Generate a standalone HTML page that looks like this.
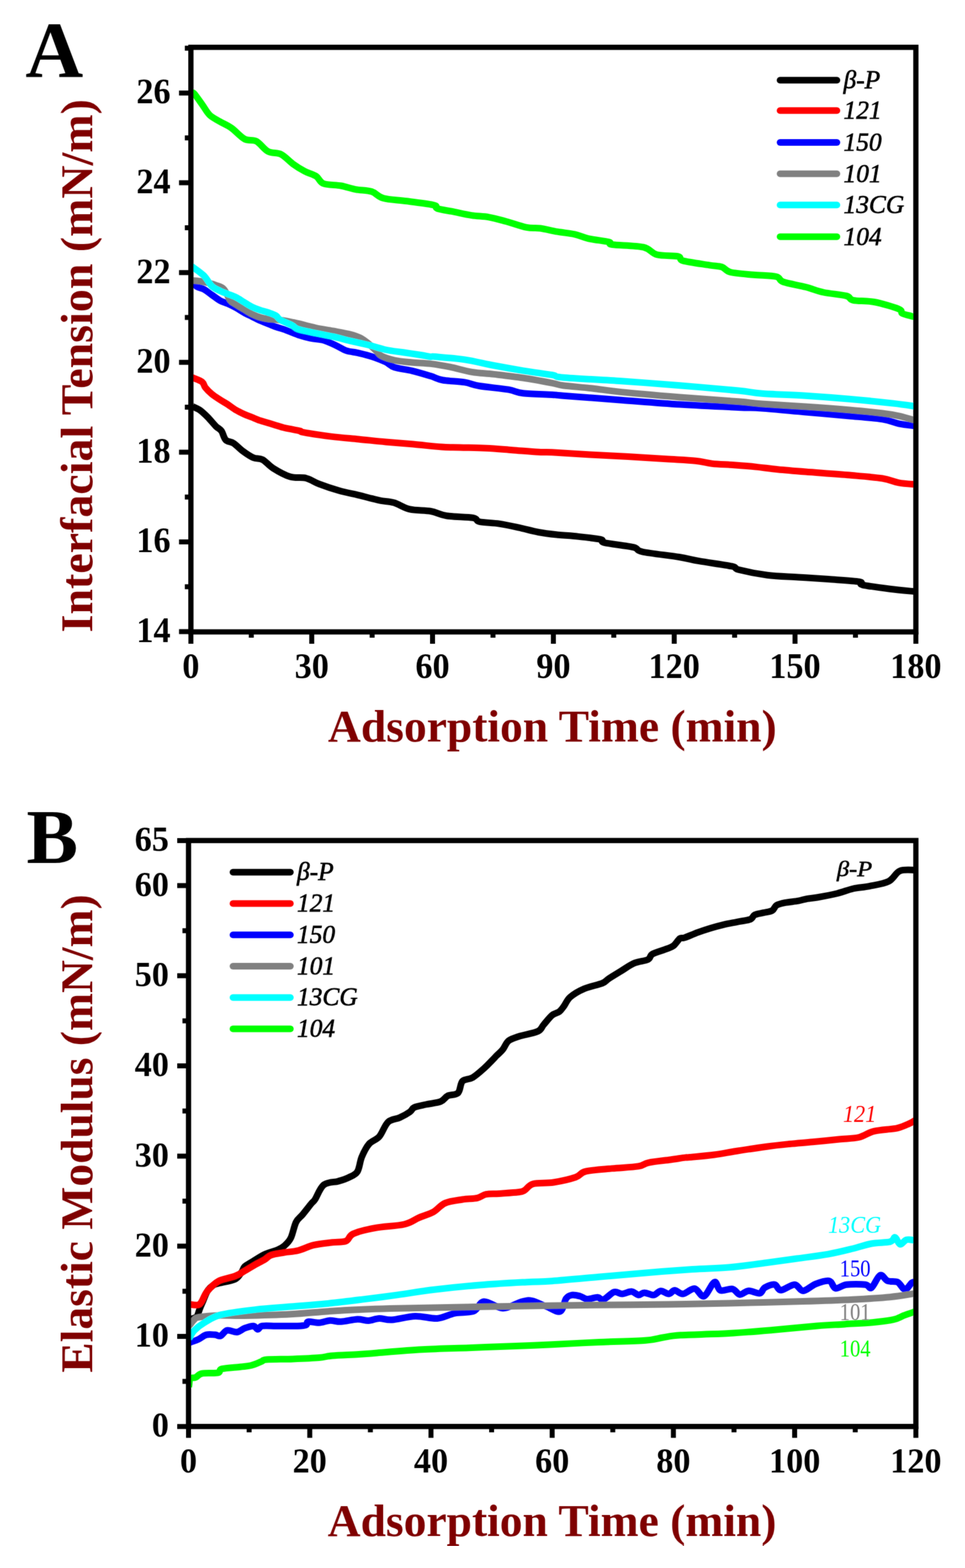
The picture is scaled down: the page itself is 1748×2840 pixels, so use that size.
<!DOCTYPE html>
<html><head><meta charset="utf-8"><title>Figure</title>
<style>html,body{margin:0;padding:0;background:#fff;} svg{display:block;}</style>
</head><body>
<svg width="1748" height="2840" viewBox="0 0 1748 2840">
<rect x="0" y="0" width="1748" height="2840" fill="#ffffff"/>
<defs><filter id="soft" x="0" y="0" width="100%" height="100%"><feConvolveMatrix order="3" kernelMatrix="1 2 1 2 12 2 1 2 1" divisor="24" edgeMode="duplicate" preserveAlpha="false"/></filter></defs>
<g filter="url(#soft)">
<defs><clipPath id="cA"><rect x="346" y="86" width="1313" height="1058"/></clipPath><clipPath id="cB"><rect x="341.5" y="1522" width="1318" height="1062"/></clipPath></defs>
<path clip-path="url(#cA)" d="M347.0,734.5C347.1,734.7 344.8,734.1 347.3,735.5C349.8,736.9 357.0,739.3 361.8,742.7C366.6,746.1 371.5,750.9 376.4,755.8C381.2,760.7 386.8,767.8 390.9,771.9C395.0,776.0 398.1,776.4 401.1,780.6C404.1,784.8 405.3,793.2 409.0,796.9C412.7,800.6 418.1,799.5 423.3,802.9C428.5,806.3 434.1,812.8 440.0,817.1C445.9,821.5 453.1,826.4 459.0,829.0C464.9,831.6 469.7,829.4 475.7,832.6C481.7,835.8 486.5,842.9 494.8,848.1C503.1,853.3 515.8,860.6 525.7,863.6C535.6,866.6 545.6,863.8 554.3,866.0C563.0,868.2 568.2,872.9 578.1,876.7C588.0,880.5 601.9,885.2 613.8,888.6C625.7,892.0 639.6,894.5 649.5,896.9C659.4,899.3 666.5,901.2 673.3,902.9C680.0,904.6 683.2,905.6 690.0,906.9C696.8,908.2 705.1,907.9 713.8,910.5C722.5,913.1 731.3,919.8 742.4,922.4C753.5,925.0 769.4,924.0 780.5,926.0C791.6,928.0 796.3,932.3 809.0,934.3C821.7,936.3 846.8,936.1 856.7,937.9C866.6,939.7 860.7,943.2 868.6,945.0C876.5,946.8 892.4,946.8 904.3,948.6C916.2,950.4 928.1,953.1 940.0,955.7C951.9,958.3 963.8,961.8 975.7,964.0C987.6,966.2 1000.7,967.6 1011.4,968.8C1022.1,970.0 1027.3,969.6 1040.0,971.0C1052.7,972.4 1078.5,974.9 1087.6,976.9C1096.7,978.9 1084.9,980.5 1094.8,982.9C1104.7,985.3 1135.6,988.4 1147.1,991.2C1158.6,994.0 1149.9,996.5 1163.8,999.5C1177.7,1002.5 1213.4,1006.2 1230.5,1009.0C1247.6,1011.8 1250.3,1013.4 1266.2,1016.2C1282.1,1019.0 1313.8,1023.1 1325.7,1025.7C1337.6,1028.3 1326.9,1029.0 1337.6,1031.7C1348.3,1034.4 1372.0,1039.4 1390.0,1041.7C1408.0,1044.0 1427.1,1044.2 1445.6,1045.4C1464.1,1046.6 1482.6,1047.7 1501.1,1049.1C1519.6,1050.5 1546.5,1052.0 1556.7,1053.7C1566.9,1055.4 1553.0,1057.1 1562.2,1059.3C1571.5,1061.5 1596.2,1064.7 1612.2,1066.7C1628.2,1068.7 1650.4,1070.7 1658.0,1071.5" fill="none" stroke="#000000" stroke-width="12" stroke-linejoin="round" stroke-linecap="butt"/>
<path clip-path="url(#cA)" d="M347.0,683.5C347.5,683.7 347.0,683.1 350.2,684.5C353.4,685.9 362.6,688.9 366.2,691.8C369.8,694.7 369.1,698.4 372.0,702.0C374.9,705.6 379.2,710.0 383.6,713.6C388.0,717.2 393.4,720.6 398.2,723.8C403.0,727.0 407.8,729.5 412.7,732.6C417.6,735.8 422.4,739.8 427.3,742.7C432.2,745.6 437.0,747.8 441.8,750.0C446.6,752.2 451.5,753.8 456.4,755.8C461.3,757.8 466.1,760.0 471.0,761.7C475.9,763.4 480.7,764.5 485.5,766.0C490.3,767.5 495.1,768.9 500.0,770.4C504.9,771.9 509.8,773.6 514.6,774.8C519.5,776.0 524.2,776.7 529.1,777.7C534.0,778.7 540.2,779.7 543.7,780.6C547.2,781.5 540.7,781.4 550.0,783.1C559.3,784.8 583.1,788.5 599.6,790.6C616.1,792.7 632.7,793.9 649.2,795.5C665.7,797.1 682.3,799.0 698.8,800.5C715.3,802.0 731.5,803.1 748.4,804.6C765.3,806.1 785.9,808.6 800.0,809.6C814.1,810.6 819.5,810.1 832.9,810.5C846.3,810.9 864.6,810.9 880.5,811.7C896.4,812.5 912.2,814.0 928.1,815.2C944.0,816.4 963.7,818.1 975.7,818.8C987.7,819.5 984.5,818.4 1000.0,819.2C1015.5,820.0 1045.9,822.2 1068.8,823.5C1091.7,824.8 1114.7,825.7 1137.6,827.0C1160.5,828.3 1186.0,830.0 1206.4,831.3C1226.8,832.6 1246.1,833.3 1260.0,834.7C1273.9,836.1 1278.1,838.4 1289.7,839.7C1301.3,841.0 1316.2,841.3 1329.4,842.3C1342.6,843.3 1355.8,844.3 1369.0,845.6C1382.2,846.9 1393.6,848.8 1408.7,850.3C1423.8,851.8 1437.7,852.9 1459.4,854.6C1481.1,856.3 1515.6,858.6 1538.7,860.6C1561.8,862.6 1583.4,864.2 1598.3,866.5C1613.2,868.8 1618.0,872.6 1628.0,874.4C1638.0,876.2 1653.0,877.0 1658.0,877.5" fill="none" stroke="#ff0000" stroke-width="12" stroke-linejoin="round" stroke-linecap="butt"/>
<path clip-path="url(#cA)" d="M347.0,511.0C347.3,511.2 346.9,510.8 348.7,512.2C350.4,513.6 354.1,517.6 357.5,519.5C360.9,521.4 364.8,521.4 369.1,523.8C373.5,526.2 378.8,530.6 383.6,534.0C388.5,537.4 393.4,541.5 398.2,544.2C403.0,546.9 407.8,547.8 412.7,550.0C417.6,552.2 422.4,554.6 427.3,557.3C432.2,560.0 437.0,563.3 441.8,566.0C446.6,568.7 451.5,570.9 456.4,573.3C461.3,575.7 466.1,578.4 471.0,580.6C475.9,582.8 480.7,584.5 485.5,586.4C490.3,588.3 495.1,590.5 500.0,592.2C504.9,593.9 507.9,594.2 514.6,596.6C521.3,599.0 531.8,603.8 540.0,606.5C548.2,609.2 555.9,611.2 563.8,612.9C571.7,614.6 579.7,614.4 587.6,616.8C595.5,619.2 604.8,624.0 611.4,627.1C618.0,630.2 620.7,633.0 627.3,635.1C633.9,637.2 643.2,637.9 651.1,639.8C659.0,641.6 667.0,643.6 674.9,646.2C682.8,648.9 692.1,652.5 698.7,655.7C705.3,658.9 706.7,662.6 714.6,665.2C722.5,667.9 735.4,669.0 746.3,671.6C757.2,674.2 770.7,678.3 780.0,681.1C789.3,683.9 791.7,686.6 802.0,688.5C812.3,690.4 830.6,690.6 841.6,692.4C852.6,694.1 854.9,696.8 868.1,699.0C881.3,701.2 907.8,703.5 921.0,705.7C934.2,707.9 934.3,710.8 947.5,712.3C960.7,713.8 988.3,714.2 1000.4,714.9C1012.5,715.6 999.1,715.1 1020.0,716.7C1040.9,718.3 1090.5,722.1 1125.8,724.7C1161.1,727.4 1196.3,730.4 1231.6,732.6C1266.9,734.8 1312.8,736.8 1337.5,737.9C1362.2,739.0 1359.7,738.1 1380.0,739.5C1400.3,740.9 1433.0,744.2 1459.4,746.5C1485.9,748.8 1515.6,751.2 1538.7,753.4C1561.8,755.5 1583.4,757.1 1598.3,759.4C1613.2,761.7 1618.0,765.3 1628.0,767.3C1638.0,769.3 1653.0,770.8 1658.0,771.5" fill="none" stroke="#0000ff" stroke-width="12" stroke-linejoin="round" stroke-linecap="butt"/>
<path clip-path="url(#cA)" d="M347.0,507.8C349.5,508.1 356.9,508.6 361.8,509.3C366.7,510.0 371.5,511.0 376.4,512.2C381.2,513.4 386.0,514.7 390.9,516.6C395.8,518.5 401.1,519.2 405.5,523.8C409.9,528.4 413.5,539.6 417.1,544.2C420.7,548.8 423.2,548.8 427.3,551.5C431.4,554.2 437.0,557.3 441.8,560.2C446.6,563.1 451.5,566.5 456.4,568.9C461.3,571.3 466.1,573.3 471.0,574.8C475.9,576.3 478.2,576.7 485.5,577.7C492.8,578.7 505.5,579.2 514.6,580.6C523.7,582.0 530.5,583.7 540.0,585.9C549.5,588.1 561.1,591.5 571.7,593.8C582.3,596.0 592.9,597.4 603.5,599.4C614.1,601.4 627.0,603.6 635.2,605.7C643.4,607.8 647.6,609.3 652.9,612.0C658.2,614.7 662.1,618.0 667.0,622.0C671.9,626.0 678.0,632.2 682.0,636.0C686.0,639.8 685.4,641.9 690.8,644.6C696.2,647.4 705.4,650.5 714.6,652.5C723.9,654.5 735.4,655.4 746.3,656.5C757.2,657.6 768.5,657.5 780.0,658.9C791.5,660.3 802.7,662.2 815.2,664.7C827.7,667.2 841.7,671.7 854.9,673.9C868.1,676.1 879.2,676.1 894.6,677.9C910.0,679.7 929.9,681.9 947.5,684.5C965.1,687.1 988.3,691.5 1000.4,693.8C1012.5,696.1 1007.9,696.6 1020.0,698.2C1032.1,699.8 1055.3,701.5 1072.9,703.5C1090.5,705.5 1099.3,707.5 1125.8,710.1C1152.2,712.8 1196.3,716.5 1231.6,719.4C1266.9,722.3 1312.8,725.3 1337.5,727.3C1362.2,729.3 1359.7,730.1 1380.0,731.6C1400.3,733.1 1433.0,734.7 1459.4,736.5C1485.9,738.3 1515.6,740.5 1538.7,742.5C1561.8,744.5 1583.4,746.7 1598.3,748.5C1613.2,750.3 1618.0,751.2 1628.0,753.4C1638.0,755.6 1653.0,760.1 1658.0,761.5" fill="none" stroke="#808080" stroke-width="12" stroke-linejoin="round" stroke-linecap="butt"/>
<path clip-path="url(#cA)" d="M347.0,483.0C347.5,483.2 346.5,481.8 350.2,484.5C353.9,487.2 363.5,493.5 369.1,499.1C374.7,504.7 378.8,513.4 383.6,518.0C388.5,522.6 393.4,524.3 398.2,526.7C403.0,529.1 407.8,530.7 412.7,532.6C417.6,534.5 422.4,536.0 427.3,538.4C432.2,540.8 437.0,544.2 441.8,547.1C446.6,550.0 451.5,553.4 456.4,555.8C461.3,558.2 466.1,560.0 471.0,561.7C475.9,563.4 480.7,564.3 485.5,566.0C490.3,567.7 496.4,569.6 500.0,571.8C503.6,574.0 502.4,576.2 507.3,579.1C512.1,582.0 523.6,586.4 529.1,589.3C534.6,592.1 532.9,593.9 540.0,596.2C547.1,598.5 561.1,601.0 571.7,603.3C582.3,605.5 592.9,607.3 603.5,609.7C614.1,612.1 624.6,615.1 635.2,617.6C645.8,620.1 656.4,622.1 667.0,624.8C677.6,627.4 688.1,631.2 698.7,633.5C709.3,635.8 719.9,636.7 730.5,638.3C741.1,639.9 754.0,641.7 762.2,643.0C770.5,644.3 775.6,645.7 780.0,646.2C784.4,646.7 778.4,645.2 788.7,646.1C799.0,647.0 824.0,648.8 841.6,651.4C859.2,654.0 877.0,658.7 894.6,662.0C912.2,665.3 929.9,668.4 947.5,671.3C965.1,674.2 988.3,677.1 1000.4,679.2C1012.5,681.3 999.1,681.9 1020.0,683.7C1040.9,685.6 1090.5,687.9 1125.8,690.3C1161.1,692.7 1196.3,695.3 1231.6,698.2C1266.9,701.1 1312.8,705.1 1337.5,707.5C1362.2,709.9 1359.7,711.2 1380.0,712.7C1400.3,714.2 1433.0,715.0 1459.4,716.7C1485.9,718.4 1512.2,720.4 1538.7,722.7C1565.2,725.0 1598.2,728.4 1618.1,730.6C1638.0,732.8 1651.3,735.1 1658.0,736.0" fill="none" stroke="#00ffff" stroke-width="12" stroke-linejoin="round" stroke-linecap="butt"/>
<path clip-path="url(#cA)" d="M347.0,168.0C347.8,168.3 348.6,166.2 351.9,169.8C355.1,173.4 361.9,183.3 366.5,189.7C371.1,196.1 374.4,203.1 379.7,208.2C385.0,213.3 391.6,216.1 398.2,220.1C404.8,224.1 411.9,226.7 419.4,232.0C426.9,237.3 435.7,247.9 443.2,251.9C450.7,255.9 457.2,252.1 464.3,255.8C471.4,259.5 478.0,270.3 485.5,274.3C493.0,278.3 501.8,275.9 509.3,279.6C516.8,283.4 523.5,291.7 530.5,296.8C537.5,301.9 544.6,306.2 551.6,310.0C558.6,313.8 567.1,315.6 572.8,319.3C578.5,323.1 578.5,329.6 586.0,332.5C593.5,335.4 608.1,334.7 617.8,336.5C627.5,338.3 635.0,341.3 644.2,343.1C653.5,344.9 664.9,344.5 673.3,347.1C681.7,349.8 683.9,356.1 694.5,359.0C705.1,361.9 721.5,362.2 736.8,364.3C752.0,366.4 776.8,369.3 786.0,371.5C795.2,373.7 786.0,375.6 792.2,377.7C798.4,379.8 812.9,381.8 823.3,383.9C833.6,386.0 843.9,388.5 854.3,390.1C864.6,391.7 875.0,391.5 885.4,393.3C895.8,395.1 905.1,397.9 916.5,401.0C927.9,404.1 943.4,409.8 953.8,411.9C964.2,414.0 969.4,412.2 978.7,413.5C988.0,414.8 999.4,417.9 1009.8,419.7C1020.1,421.5 1031.5,422.2 1040.8,424.3C1050.1,426.4 1055.3,429.8 1065.7,432.1C1076.1,434.4 1095.8,436.5 1103.0,438.3C1110.2,440.1 1098.8,441.4 1109.2,443.0C1119.6,444.6 1151.7,444.6 1165.2,447.7C1178.7,450.8 1179.5,458.5 1190.0,461.3C1200.5,464.1 1220.2,462.5 1228.1,464.4C1236.0,466.2 1228.1,469.8 1237.6,472.4C1247.1,475.0 1273.5,478.4 1285.2,480.3C1296.9,482.2 1301.2,481.4 1307.5,483.5C1313.8,485.6 1313.8,490.6 1323.3,493.0C1332.8,495.4 1350.8,496.5 1364.6,497.8C1378.4,499.1 1396.9,498.9 1405.9,501.0C1414.9,503.1 1409.6,507.3 1418.6,510.5C1427.6,513.7 1447.6,516.8 1459.8,520.0C1472.0,523.2 1479.4,526.9 1491.6,529.5C1503.8,532.1 1523.9,533.5 1532.9,535.9C1541.9,538.3 1537.1,541.9 1545.6,543.8C1554.1,545.6 1570.0,544.4 1583.7,547.0C1597.5,549.6 1619.6,556.3 1628.1,559.7C1636.5,563.1 1630.7,565.5 1634.4,567.6C1638.1,569.7 1646.4,571.3 1650.3,572.4C1654.2,573.5 1656.7,573.7 1658.0,574.0" fill="none" stroke="#00ff00" stroke-width="12" stroke-linejoin="round" stroke-linecap="butt"/>
<path clip-path="url(#cB)" d="M342.0,2390.0C343.7,2389.5 349.5,2388.0 352.0,2387.0C354.5,2386.0 355.3,2386.8 357.0,2384.0C358.7,2381.2 360.2,2374.7 362.0,2370.0C363.8,2365.3 365.7,2361.3 368.0,2356.0C370.3,2350.7 373.0,2342.7 376.0,2338.0C379.0,2333.3 382.7,2330.2 386.0,2328.0C389.3,2325.8 389.1,2326.3 395.7,2324.5C402.3,2322.7 418.6,2320.2 425.5,2317.0C432.4,2313.8 434.0,2308.8 437.0,2305.0C440.0,2301.2 440.3,2297.1 443.3,2294.0C446.3,2290.9 449.2,2290.1 455.2,2286.4C461.1,2282.8 471.1,2275.9 479.0,2272.1C486.9,2268.3 496.9,2266.4 502.9,2263.8C508.9,2261.2 510.8,2260.3 514.8,2256.7C518.8,2253.1 523.1,2249.6 526.7,2242.4C530.3,2235.2 532.7,2220.6 536.3,2213.5C539.9,2206.4 543.7,2205.2 548.3,2199.6C552.9,2194.0 560.4,2184.3 564.1,2179.8C567.8,2175.3 566.9,2178.1 570.6,2172.5C574.3,2166.9 579.5,2151.5 586.5,2146.0C593.5,2140.5 605.4,2141.6 612.9,2139.4C620.4,2137.2 625.7,2135.7 631.4,2132.8C637.1,2129.9 643.3,2128.4 647.3,2122.2C651.3,2116.0 651.7,2104.2 655.2,2095.8C658.7,2087.4 663.2,2078.2 668.5,2072.0C673.8,2065.8 681.3,2065.3 687.0,2058.7C692.7,2052.1 696.7,2038.0 702.9,2032.3C709.1,2026.6 717.4,2027.4 724.0,2024.3C730.6,2021.2 738.1,2016.9 742.5,2013.8C746.9,2010.7 745.6,2008.0 750.5,2005.8C755.4,2003.6 763.7,2002.3 771.6,2000.5C779.5,1998.7 791.5,1997.8 798.1,1995.2C804.7,1992.6 806.0,1987.3 811.3,1984.7C816.6,1982.1 825.4,1983.8 829.8,1979.4C834.2,1975.0 833.4,1962.8 837.8,1958.2C842.2,1953.6 849.7,1955.6 856.3,1951.6C862.9,1947.6 871.8,1939.5 877.5,1934.4C883.2,1929.3 887.0,1925.0 890.7,1921.2C894.5,1917.4 896.7,1914.9 900.0,1911.6C903.3,1908.2 907.1,1905.5 910.6,1901.1C914.1,1896.7 916.4,1889.2 921.2,1885.2C926.1,1881.2 930.9,1880.1 939.7,1877.2C948.5,1874.3 966.6,1871.5 974.1,1868.0C981.6,1864.5 980.4,1861.0 984.7,1856.1C989.0,1851.2 995.2,1842.8 1000.0,1838.8C1004.8,1834.8 1009.6,1835.0 1013.2,1832.2C1016.8,1829.5 1018.2,1826.7 1021.5,1822.3C1024.8,1817.9 1027.0,1810.9 1033.1,1805.7C1039.2,1800.5 1048.3,1795.0 1057.9,1790.9C1067.5,1786.8 1083.5,1783.9 1090.9,1780.9C1098.3,1777.9 1097.0,1776.3 1102.5,1772.7C1108.0,1769.1 1116.3,1764.1 1124.0,1759.4C1131.7,1754.7 1140.5,1748.2 1148.8,1744.6C1157.1,1741.0 1168.1,1740.8 1173.6,1738.0C1179.1,1735.2 1176.4,1731.2 1181.9,1728.0C1187.4,1724.8 1200.4,1721.4 1206.7,1718.9C1213.0,1716.4 1215.8,1716.3 1219.9,1713.1C1224.0,1709.9 1228.2,1702.4 1231.5,1699.9C1234.8,1697.5 1234.6,1700.2 1240.0,1698.4C1245.4,1696.6 1255.9,1691.8 1263.8,1688.9C1271.7,1686.0 1279.7,1683.4 1287.6,1681.0C1295.5,1678.6 1303.5,1676.5 1311.4,1674.6C1319.3,1672.7 1327.3,1671.4 1335.2,1669.8C1343.1,1668.2 1353.7,1667.2 1359.0,1665.1C1364.3,1663.0 1363.0,1659.1 1367.0,1657.1C1371.0,1655.1 1377.6,1654.5 1382.9,1653.2C1388.2,1651.9 1394.7,1651.5 1398.7,1649.2C1402.7,1647.0 1402.7,1642.1 1406.7,1639.7C1410.7,1637.3 1415.9,1636.2 1422.5,1634.9C1429.1,1633.6 1439.7,1632.9 1446.3,1631.7C1452.9,1630.5 1456.6,1628.8 1462.2,1627.8C1467.8,1626.8 1471.0,1627.1 1480.0,1625.5C1489.0,1623.9 1505.6,1620.9 1516.5,1618.2C1527.4,1615.5 1535.9,1611.7 1545.6,1609.5C1555.3,1607.3 1564.0,1607.3 1574.7,1605.1C1585.4,1602.9 1600.4,1601.0 1609.6,1596.4C1618.8,1591.8 1621.9,1580.9 1630.0,1577.5C1638.1,1574.1 1653.3,1576.2 1658.0,1576.0" fill="none" stroke="#000000" stroke-width="12" stroke-linejoin="round" stroke-linecap="butt"/>
<path clip-path="url(#cB)" d="M342.0,2362.2C345.2,2362.2 356.1,2365.9 361.5,2362.2C366.9,2358.5 369.0,2346.8 374.7,2339.8C380.4,2332.9 387.2,2325.2 395.7,2320.5C404.2,2315.8 417.6,2314.5 425.5,2311.4C433.4,2308.3 437.4,2305.3 443.3,2301.9C449.2,2298.5 455.2,2294.6 461.2,2291.2C467.1,2287.8 474.0,2284.7 479.0,2281.7C484.0,2278.7 485.0,2275.5 491.0,2273.3C497.0,2271.1 506.6,2270.0 514.8,2268.6C523.0,2267.2 531.1,2267.2 540.0,2265.0C548.9,2262.8 558.1,2257.6 568.1,2255.2C578.1,2252.8 590.3,2251.7 600.0,2250.5C609.7,2249.3 619.9,2250.5 626.5,2247.9C633.1,2245.3 630.9,2238.7 639.7,2234.7C648.5,2230.7 664.0,2227.0 679.4,2224.1C694.8,2221.2 719.1,2220.6 732.3,2217.5C745.5,2214.4 749.9,2209.3 758.7,2205.6C767.5,2201.8 777.3,2199.4 785.2,2195.0C793.1,2190.6 797.5,2182.8 806.3,2179.1C815.1,2175.3 828.1,2174.1 837.8,2172.5C847.5,2170.9 857.5,2171.4 864.6,2169.8C871.7,2168.2 873.8,2164.5 880.4,2163.2C887.0,2161.9 894.3,2162.6 904.0,2161.9C913.7,2161.2 930.9,2160.3 938.6,2159.3C946.3,2158.3 945.5,2158.6 950.0,2156.1C954.5,2153.6 957.1,2146.6 965.9,2144.2C974.7,2141.8 990.1,2143.5 1002.9,2141.5C1015.7,2139.5 1032.9,2135.6 1042.6,2132.3C1052.3,2129.0 1050.1,2124.3 1061.1,2121.7C1072.1,2119.0 1092.8,2117.9 1108.7,2116.4C1124.6,2114.9 1145.3,2114.2 1156.3,2112.4C1167.3,2110.6 1165.2,2107.8 1174.9,2105.8C1184.6,2103.8 1203.6,2102.0 1214.6,2100.5C1225.6,2099.0 1235.1,2097.3 1241.0,2096.6C1246.9,2095.9 1241.2,2096.9 1250.0,2096.1C1258.8,2095.2 1280.0,2093.3 1293.9,2091.5C1307.8,2089.7 1317.5,2087.5 1333.3,2085.0C1349.1,2082.5 1372.8,2078.9 1388.9,2076.7C1405.0,2074.5 1416.1,2073.4 1430.0,2072.0C1443.9,2070.6 1457.2,2069.7 1472.2,2068.3C1487.2,2066.9 1506.1,2064.9 1520.0,2063.5C1533.9,2062.1 1545.0,2062.4 1555.6,2060.0C1566.1,2057.6 1571.7,2051.7 1583.3,2048.9C1594.9,2046.1 1614.3,2045.6 1625.0,2043.3C1635.7,2041.0 1641.7,2037.4 1647.2,2035.0C1652.7,2032.6 1656.2,2030.0 1658.0,2029.0" fill="none" stroke="#ff0000" stroke-width="12" stroke-linejoin="round" stroke-linecap="butt"/>
<path clip-path="url(#cB)" d="M342.0,2432.0C342.3,2431.9 341.0,2432.6 344.0,2431.5C347.0,2430.4 354.9,2427.9 359.8,2425.6C364.8,2423.3 368.7,2418.9 373.7,2417.6C378.7,2416.3 385.3,2417.3 389.6,2417.6C393.9,2417.9 395.9,2420.9 399.5,2419.6C403.1,2418.3 406.4,2410.8 411.4,2409.7C416.4,2408.5 424.0,2413.4 429.3,2412.7C434.6,2412.0 438.2,2407.5 443.2,2405.7C448.1,2403.9 455.0,2401.4 459.0,2401.7C463.0,2402.0 464.4,2407.7 467.0,2407.7C469.6,2407.7 469.6,2402.7 474.9,2401.7C480.2,2400.7 491.4,2401.7 498.7,2401.7C506.0,2401.7 512.0,2401.7 518.6,2401.7C525.2,2401.7 532.5,2402.0 538.4,2401.7C544.3,2401.4 551.0,2401.1 554.3,2399.8C557.6,2398.5 554.3,2394.5 558.3,2393.8C562.3,2393.1 571.5,2396.1 578.1,2395.8C584.7,2395.5 591.3,2392.1 597.9,2391.8C604.5,2391.5 609.5,2394.2 617.8,2393.8C626.1,2393.4 639.2,2389.8 647.5,2389.5C655.8,2389.2 661.0,2392.2 667.6,2391.9C674.2,2391.6 680.0,2388.1 687.1,2387.9C694.2,2387.7 699.1,2391.2 710.0,2390.5C720.9,2389.8 738.6,2384.3 752.3,2383.9C766.0,2383.5 780.1,2388.8 792.0,2387.9C803.9,2387.0 812.7,2380.8 823.7,2378.6C834.7,2376.4 849.3,2378.2 858.1,2374.7C866.9,2371.2 867.8,2358.4 876.6,2357.5C885.4,2356.6 899.5,2369.4 911.0,2369.4C922.5,2369.4 936.6,2359.7 945.4,2357.5C954.2,2355.3 956.4,2354.6 963.9,2356.1C971.4,2357.6 981.9,2363.5 990.4,2366.7C998.9,2369.9 1009.0,2377.6 1014.8,2375.2C1020.6,2372.8 1021.9,2356.9 1025.4,2352.0C1028.9,2347.1 1031.8,2346.3 1036.0,2345.6C1040.2,2344.9 1046.2,2346.5 1050.8,2347.7C1055.4,2348.9 1058.2,2352.7 1063.5,2353.0C1068.8,2353.3 1077.6,2349.6 1082.5,2349.8C1087.4,2350.0 1088.1,2355.6 1093.1,2354.0C1098.0,2352.4 1106.5,2342.1 1112.2,2340.3C1117.9,2338.6 1121.7,2343.7 1127.0,2343.5C1132.3,2343.3 1139.0,2339.0 1143.9,2339.3C1148.8,2339.7 1152.7,2345.2 1156.6,2345.6C1160.5,2345.9 1162.6,2341.4 1167.2,2341.4C1171.8,2341.4 1179.2,2346.1 1184.1,2345.6C1189.0,2345.1 1192.2,2338.5 1196.8,2338.2C1201.4,2337.8 1207.4,2343.7 1211.6,2343.5C1215.8,2343.3 1218.0,2337.1 1222.2,2337.1C1226.4,2337.1 1231.0,2344.0 1237.0,2343.5C1243.0,2343.0 1251.9,2333.3 1258.2,2334.0C1264.5,2334.7 1269.1,2349.6 1275.1,2347.7C1281.1,2345.8 1289.2,2324.1 1294.2,2322.3C1299.2,2320.5 1299.4,2335.1 1304.8,2337.1C1310.2,2339.1 1320.8,2333.3 1326.7,2334.6C1332.6,2335.9 1335.3,2344.1 1340.2,2344.7C1345.1,2345.2 1350.0,2338.3 1356.0,2337.9C1362.0,2337.5 1371.3,2343.3 1376.2,2342.4C1381.1,2341.5 1380.7,2334.9 1385.2,2332.3C1389.7,2329.7 1398.3,2325.9 1403.2,2326.7C1408.1,2327.4 1408.4,2336.8 1414.4,2336.8C1420.4,2336.8 1432.5,2326.5 1439.2,2326.7C1446.0,2326.9 1448.5,2338.1 1454.9,2337.9C1461.3,2337.7 1469.5,2328.6 1477.4,2325.6C1485.3,2322.6 1496.1,2318.7 1502.1,2320.0C1508.1,2321.3 1508.2,2332.3 1513.4,2333.4C1518.7,2334.5 1524.6,2327.8 1533.6,2326.7C1542.6,2325.6 1559.9,2325.8 1567.4,2326.7C1574.9,2327.6 1574.1,2335.1 1578.6,2332.3C1583.1,2329.5 1589.4,2311.9 1594.3,2309.8C1599.2,2307.8 1602.5,2317.9 1607.8,2320.0C1613.0,2322.1 1620.5,2319.6 1625.8,2322.2C1631.0,2324.8 1635.0,2335.5 1639.3,2335.7C1643.6,2335.9 1648.6,2325.6 1651.7,2323.3C1654.8,2321.0 1657.0,2322.2 1658.0,2322.0" fill="none" stroke="#0000ff" stroke-width="12" stroke-linejoin="round" stroke-linecap="butt"/>
<path clip-path="url(#cB)" d="M342.0,2401.0C342.3,2400.8 342.5,2401.5 344.0,2399.8C345.5,2398.1 348.4,2393.3 351.0,2391.0C353.6,2388.7 351.7,2387.3 359.8,2385.9C367.9,2384.5 385.8,2383.0 399.5,2382.5C413.2,2382.0 421.1,2383.4 442.3,2383.0C463.6,2382.6 498.8,2381.8 527.0,2380.3C555.2,2378.8 579.4,2375.8 611.6,2374.0C643.8,2372.2 655.3,2371.2 720.0,2369.7C784.7,2368.1 935.7,2365.7 1000.0,2364.7C1064.3,2363.7 1070.5,2364.0 1105.8,2363.6C1141.1,2363.2 1175.9,2363.0 1211.6,2362.5C1247.3,2362.0 1279.5,2361.3 1320.0,2360.4C1360.5,2359.5 1417.4,2358.1 1454.9,2357.0C1492.4,2355.9 1518.7,2355.0 1544.9,2353.7C1571.1,2352.4 1594.5,2350.9 1612.3,2349.2C1630.1,2347.5 1644.1,2344.7 1651.7,2343.6C1659.3,2342.5 1657.0,2342.7 1658.0,2342.5" fill="none" stroke="#808080" stroke-width="12" stroke-linejoin="round" stroke-linecap="butt"/>
<path clip-path="url(#cB)" d="M342.0,2424.0C342.3,2423.6 342.4,2424.0 344.0,2421.6C345.6,2419.2 347.6,2414.0 351.9,2409.7C356.2,2405.4 361.8,2400.5 369.8,2395.8C377.8,2391.1 384.4,2385.4 400.0,2381.4C415.6,2377.4 442.3,2374.4 463.5,2371.9C484.7,2369.4 505.8,2368.4 527.0,2366.6C548.2,2364.8 569.3,2363.4 590.5,2361.3C611.7,2359.2 632.4,2356.6 654.0,2353.9C675.6,2351.2 698.2,2348.4 720.0,2345.4C741.8,2342.4 759.8,2339.0 784.7,2336.0C809.6,2333.0 841.1,2329.8 869.3,2327.5C897.5,2325.2 932.2,2323.4 954.0,2322.2C975.8,2321.0 978.2,2321.8 1000.0,2320.2C1021.8,2318.6 1056.5,2315.3 1084.7,2312.8C1112.9,2310.3 1141.1,2307.7 1169.3,2305.4C1197.5,2303.1 1228.9,2300.7 1254.0,2299.0C1279.1,2297.3 1297.8,2297.4 1320.0,2295.5C1342.2,2293.6 1366.9,2290.0 1387.5,2287.3C1408.1,2284.6 1425.0,2282.1 1443.7,2279.5C1462.4,2276.9 1483.0,2274.6 1499.9,2271.6C1516.8,2268.6 1531.8,2264.7 1544.9,2261.5C1558.0,2258.3 1567.4,2254.6 1578.6,2252.5C1589.8,2250.4 1605.2,2251.0 1612.3,2249.1C1619.4,2247.2 1618.3,2240.4 1621.3,2241.2C1624.3,2241.9 1626.9,2252.8 1630.3,2253.6C1633.7,2254.3 1638.0,2247.0 1641.6,2245.7C1645.2,2244.4 1649.0,2245.5 1651.7,2245.7C1654.4,2245.9 1657.0,2246.8 1658.0,2247.0" fill="none" stroke="#00ffff" stroke-width="12" stroke-linejoin="round" stroke-linecap="butt"/>
<path clip-path="url(#cB)" d="M342.0,2512.0C342.1,2511.5 341.9,2511.5 342.4,2509.0C342.9,2506.5 342.8,2499.4 344.8,2497.0C346.8,2494.6 350.7,2496.4 354.3,2494.8C357.9,2493.2 359.4,2489.0 366.2,2487.6C372.9,2486.2 388.9,2487.8 394.8,2486.4C400.8,2485.0 395.2,2481.1 401.9,2479.3C408.6,2477.5 426.5,2476.7 435.2,2475.7C443.9,2474.7 447.9,2474.9 454.3,2473.3C460.7,2471.7 468.5,2468.0 473.3,2466.2C478.1,2464.4 473.4,2463.4 482.9,2462.6C492.4,2461.8 514.6,2462.0 530.5,2461.4C546.4,2460.8 566.2,2460.0 578.1,2459.0C590.0,2458.0 590.0,2456.5 601.9,2455.5C613.8,2454.5 636.5,2453.9 649.5,2453.1C662.5,2452.3 660.8,2452.2 680.0,2450.7C699.2,2449.2 736.5,2445.9 764.7,2444.3C792.9,2442.7 821.1,2442.2 849.3,2441.2C877.5,2440.1 908.9,2439.0 934.0,2438.0C959.1,2437.0 974.9,2436.4 1000.0,2435.2C1025.1,2434.0 1056.5,2432.2 1084.7,2431.0C1112.9,2429.8 1149.9,2429.2 1169.3,2427.8C1188.7,2426.4 1190.4,2424.1 1201.0,2422.5C1211.6,2420.9 1213.0,2419.5 1232.8,2418.3C1252.6,2417.1 1292.3,2416.7 1320.0,2415.1C1347.7,2413.5 1372.5,2411.3 1399.2,2409.0C1425.9,2406.7 1458.2,2403.3 1480.0,2401.5C1501.8,2399.7 1513.5,2399.5 1530.3,2398.4C1547.0,2397.3 1565.8,2396.6 1580.5,2395.2C1595.2,2393.8 1608.8,2392.3 1618.2,2390.2C1627.6,2388.1 1631.2,2384.9 1637.1,2382.7C1643.0,2380.5 1649.9,2378.3 1653.4,2377.0C1656.9,2375.7 1657.2,2375.3 1658.0,2375.0" fill="none" stroke="#00ff00" stroke-width="12" stroke-linejoin="round" stroke-linecap="butt"/>
<rect x="345.8" y="85.7" width="1313.2" height="1058.8" fill="none" stroke="#000" stroke-width="9.5"/>
<path d="M324.3,1144.1H345.8 M334.8,1062.8H345.8 M324.3,981.5H345.8 M334.8,900.2H345.8 M324.3,818.9H345.8 M334.8,737.6H345.8 M324.3,656.3H345.8 M334.8,575.0H345.8 M324.3,493.7H345.8 M334.8,412.4H345.8 M324.3,331.1H345.8 M334.8,249.8H345.8 M324.3,168.5H345.8 M334.8,87.2H345.8 M345.8,1144.5V1166.0 M455.2,1144.5V1155.0 M564.7,1144.5V1166.0 M674.1,1144.5V1155.0 M783.5,1144.5V1166.0 M893.0,1144.5V1155.0 M1002.4,1144.5V1166.0 M1111.8,1144.5V1155.0 M1221.3,1144.5V1166.0 M1330.7,1144.5V1155.0 M1440.1,1144.5V1166.0 M1549.6,1144.5V1155.0 M1659.0,1144.5V1166.0" stroke="#000" stroke-width="9" fill="none"/>
<g font-family='"Liberation Serif", "Times New Roman", serif' font-weight="bold" font-size="62" fill="#000"><text transform="translate(309,1163.0) scale(1,1.07)" text-anchor="end">14</text><text transform="translate(309,1000.4) scale(1,1.07)" text-anchor="end">16</text><text transform="translate(309,837.8) scale(1,1.07)" text-anchor="end">18</text><text transform="translate(309,675.2) scale(1,1.07)" text-anchor="end">20</text><text transform="translate(309,512.6) scale(1,1.07)" text-anchor="end">22</text><text transform="translate(309,350.0) scale(1,1.07)" text-anchor="end">24</text><text transform="translate(309,187.4) scale(1,1.07)" text-anchor="end">26</text><text transform="translate(345.8,1228.3) scale(1,1.07)" text-anchor="middle">0</text><text transform="translate(564.7,1228.3) scale(1,1.07)" text-anchor="middle">30</text><text transform="translate(783.5,1228.3) scale(1,1.07)" text-anchor="middle">60</text><text transform="translate(1002.4,1228.3) scale(1,1.07)" text-anchor="middle">90</text><text transform="translate(1221.3,1228.3) scale(1,1.07)" text-anchor="middle">120</text><text transform="translate(1440.1,1228.3) scale(1,1.07)" text-anchor="middle">150</text><text transform="translate(1659.0,1228.3) scale(1,1.07)" text-anchor="middle">180</text></g>
<text x="1000.5" y="1343" text-anchor="middle" font-family='"Liberation Serif", "Times New Roman", serif' font-weight="bold" font-size="82.5" fill="#7f0000">Adsorption Time (min)</text>
<text transform="translate(166.5,662.5) rotate(-90)" x="0" y="0" text-anchor="middle" font-family='"Liberation Serif", "Times New Roman", serif' font-weight="bold" font-size="83.2" fill="#7f0000">Interfacial Tension (mN/m)</text>
<path d="M1413,145.3H1516" stroke="#000000" stroke-width="12" stroke-linecap="round"/><text x="1528" y="160.3" font-family='"Liberation Serif", "Times New Roman", serif' font-weight="normal" font-style="italic" font-size="46" fill="#000" stroke="#000" stroke-width="1">β-P</text><path d="M1413,200.3H1516" stroke="#ff0000" stroke-width="12" stroke-linecap="round"/><text x="1528" y="215.3" font-family='"Liberation Serif", "Times New Roman", serif' font-weight="normal" font-style="italic" font-size="46" fill="#000" stroke="#000" stroke-width="1">121</text><path d="M1413,258H1516" stroke="#0000ff" stroke-width="12" stroke-linecap="round"/><text x="1528" y="273.0" font-family='"Liberation Serif", "Times New Roman", serif' font-weight="normal" font-style="italic" font-size="46" fill="#000" stroke="#000" stroke-width="1">150</text><path d="M1413,314.7H1516" stroke="#808080" stroke-width="12" stroke-linecap="round"/><text x="1528" y="329.7" font-family='"Liberation Serif", "Times New Roman", serif' font-weight="normal" font-style="italic" font-size="46" fill="#000" stroke="#000" stroke-width="1">101</text><path d="M1413,371.3H1516" stroke="#00ffff" stroke-width="12" stroke-linecap="round"/><text x="1528" y="386.3" font-family='"Liberation Serif", "Times New Roman", serif' font-weight="normal" font-style="italic" font-size="46" fill="#000" stroke="#000" stroke-width="1">13CG</text><path d="M1413,428.8H1516" stroke="#00ff00" stroke-width="12" stroke-linecap="round"/><text x="1528" y="443.8" font-family='"Liberation Serif", "Times New Roman", serif' font-weight="normal" font-style="italic" font-size="46" fill="#000" stroke="#000" stroke-width="1">104</text>
<text x="46" y="139.5" font-family='"Liberation Serif", "Times New Roman", serif' font-weight="bold" font-size="145" fill="#000">A</text>
<rect x="341.5" y="1522.4" width="1317.5" height="1061.2999999999997" fill="none" stroke="#000" stroke-width="9.5"/>
<path d="M321.0,2583.7H341.5 M330.5,2502.1H341.5 M321.0,2420.4H341.5 M330.5,2338.8H341.5 M321.0,2257.1H341.5 M330.5,2175.5H341.5 M321.0,2093.9H341.5 M330.5,2012.2H341.5 M321.0,1930.6H341.5 M330.5,1849.0H341.5 M321.0,1767.3H341.5 M330.5,1685.7H341.5 M321.0,1604.0H341.5 M321.0,1522.4H341.5 M341.5,2583.7V2604.2 M451.3,2583.7V2594.2 M561.1,2583.7V2604.2 M670.9,2583.7V2594.2 M780.7,2583.7V2604.2 M890.5,2583.7V2594.2 M1000.2,2583.7V2604.2 M1110.0,2583.7V2594.2 M1219.8,2583.7V2604.2 M1329.6,2583.7V2594.2 M1439.4,2583.7V2604.2 M1549.2,2583.7V2594.2 M1659.0,2583.7V2604.2" stroke="#000" stroke-width="9" fill="none"/>
<g font-family='"Liberation Serif", "Times New Roman", serif' font-weight="bold" font-size="62" fill="#000"><text transform="translate(306,2602.4) scale(1,1.02)" text-anchor="end">0</text><text transform="translate(306,2439.1) scale(1,1.02)" text-anchor="end">10</text><text transform="translate(306,2275.8) scale(1,1.02)" text-anchor="end">20</text><text transform="translate(306,2112.6) scale(1,1.02)" text-anchor="end">30</text><text transform="translate(306,1949.3) scale(1,1.02)" text-anchor="end">40</text><text transform="translate(306,1786.0) scale(1,1.02)" text-anchor="end">50</text><text transform="translate(306,1622.7) scale(1,1.02)" text-anchor="end">60</text><text transform="translate(306,1541.1) scale(1,1.02)" text-anchor="end">65</text><text transform="translate(341.5,2667.3) scale(1,1.02)" text-anchor="middle">0</text><text transform="translate(561.1,2667.3) scale(1,1.02)" text-anchor="middle">20</text><text transform="translate(780.7,2667.3) scale(1,1.02)" text-anchor="middle">40</text><text transform="translate(1000.2,2667.3) scale(1,1.02)" text-anchor="middle">60</text><text transform="translate(1219.8,2667.3) scale(1,1.02)" text-anchor="middle">80</text><text transform="translate(1439.4,2667.3) scale(1,1.02)" text-anchor="middle">100</text><text transform="translate(1659.0,2667.3) scale(1,1.02)" text-anchor="middle">120</text></g>
<text x="1000" y="2781.5" text-anchor="middle" font-family='"Liberation Serif", "Times New Roman", serif' font-weight="bold" font-size="82.5" fill="#7f0000">Adsorption Time (min)</text>
<text transform="translate(166.6,2053) rotate(-90)" x="0" y="0" text-anchor="middle" font-family='"Liberation Serif", "Times New Roman", serif' font-weight="bold" font-size="82.5" fill="#7f0000">Elastic Modulus (mN/m)</text>
<path d="M422,1579.7H526" stroke="#000000" stroke-width="12" stroke-linecap="round"/><text x="538" y="1594.2" font-family='"Liberation Serif", "Times New Roman", serif' font-weight="normal" font-style="italic" font-size="46" fill="#000" stroke="#000" stroke-width="1">β-P</text><path d="M422,1636.5H526" stroke="#ff0000" stroke-width="12" stroke-linecap="round"/><text x="538" y="1651.0" font-family='"Liberation Serif", "Times New Roman", serif' font-weight="normal" font-style="italic" font-size="46" fill="#000" stroke="#000" stroke-width="1">121</text><path d="M422,1693.3H526" stroke="#0000ff" stroke-width="12" stroke-linecap="round"/><text x="538" y="1707.8" font-family='"Liberation Serif", "Times New Roman", serif' font-weight="normal" font-style="italic" font-size="46" fill="#000" stroke="#000" stroke-width="1">150</text><path d="M422,1750H526" stroke="#808080" stroke-width="12" stroke-linecap="round"/><text x="538" y="1764.5" font-family='"Liberation Serif", "Times New Roman", serif' font-weight="normal" font-style="italic" font-size="46" fill="#000" stroke="#000" stroke-width="1">101</text><path d="M422,1806.8H526" stroke="#00ffff" stroke-width="12" stroke-linecap="round"/><text x="538" y="1821.3" font-family='"Liberation Serif", "Times New Roman", serif' font-weight="normal" font-style="italic" font-size="46" fill="#000" stroke="#000" stroke-width="1">13CG</text><path d="M422,1863.6H526" stroke="#00ff00" stroke-width="12" stroke-linecap="round"/><text x="538" y="1878.1" font-family='"Liberation Serif", "Times New Roman", serif' font-weight="normal" font-style="italic" font-size="46" fill="#000" stroke="#000" stroke-width="1">104</text>
<text transform="translate(1516,1586.5) scale(1.08,1.0)" font-family='"Liberation Serif", "Times New Roman", serif' font-weight="normal" font-style="italic" font-size="41" fill="#000000" stroke="#000" stroke-width="0.9">β-P</text>
<text transform="translate(1527,2032) scale(0.98,1.07)" font-family='"Liberation Serif", "Times New Roman", serif' font-weight="normal" font-style="italic" font-size="41" fill="#ff0000">121</text>
<text transform="translate(1500,2232.5) scale(0.98,1.07)" font-family='"Liberation Serif", "Times New Roman", serif' font-weight="normal" font-style="italic" font-size="41" fill="#00ffff">13CG</text>
<text transform="translate(1521,2311.5) scale(0.91,1.06)" font-family='"Liberation Serif", "Times New Roman", serif' font-weight="normal" font-style="normal" font-size="41" fill="#0000ff">150</text>
<text transform="translate(1521,2390.7) scale(0.91,1.06)" font-family='"Liberation Serif", "Times New Roman", serif' font-weight="normal" font-style="normal" font-size="41" fill="#808080">101</text>
<text transform="translate(1521,2457.4) scale(0.91,1.06)" font-family='"Liberation Serif", "Times New Roman", serif' font-weight="normal" font-style="normal" font-size="41" fill="#00ff00">104</text>
<text x="48" y="1563" font-family='"Liberation Serif", "Times New Roman", serif' font-weight="bold" font-size="140" fill="#000">B</text>
</g>
</svg>
</body></html>
